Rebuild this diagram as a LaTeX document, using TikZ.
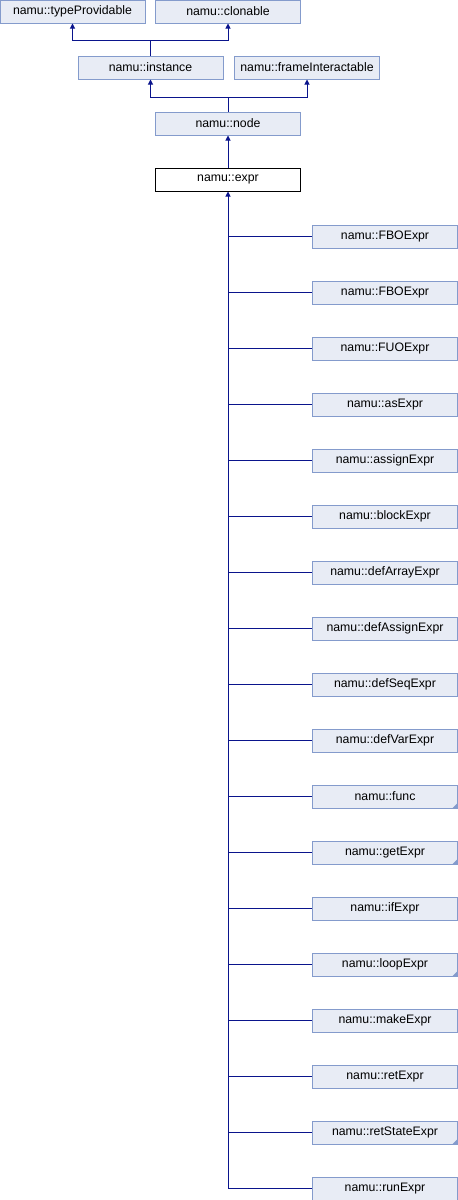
\documentclass[tikz,border=0pt]{standalone}
\usepackage{fontspec}
\setmainfont{Liberation Sans}
\usepackage{xcolor}
\usetikzlibrary{arrows.meta, positioning, calc}

\definecolor{boxfill}{RGB}{232,236,245}
\definecolor{boxline}{RGB}{132,155,204}
\definecolor{edgeblue}{RGB}{10,20,140}

\begin{document}
\begin{tikzpicture}[x=1pt, y=-1pt,
    cls/.style={draw=boxline, fill=boxfill, line width=1pt, rectangle, minimum width=145pt, minimum height=23pt, inner sep=0pt, font=\fontsize{12.3}{14}\selectfont},
    cur/.style={cls, draw=black, fill=white},
    link/.style={draw=edgeblue, line width=1pt},
    inh/.style={link, -{Triangle[length=5pt, width=5pt]}}]
    \useasboundingbox (0,0) rectangle (458,1200);

    % Base classes
    \node (typeProv) [cls] at (72.5,11.5) {namu::typeProvidable};
    \node (clonable) [cls] at (228,11.5) {namu::clonable};
    \node (instance) [cls] at (150.5,67.5) {namu::instance};
    \node (frameInt) [cls] at (307,67.5) {namu::frameInteractable};
    \node (node) [cls] at (228,123.5) {namu::node};
    \node (expr) [cur] at (228,179.5) {namu::expr};

    % Inheritance up the tree
    \coordinate (j1) at (150.5,40);
    \coordinate (j2) at (228,97);
    \draw[link] (instance.north) -- (j1);
    \draw[inh] (j1) -| (typeProv.south);
    \draw[inh] (j1) -| (clonable.south);
    \draw[link] (node.north) -- (j2);
    \draw[inh] (j2) -| (instance.south);
    \draw[inh] (j2) -| (frameInt.south);
    \draw[inh] (expr.north) -- (node.south);

    % Derived classes (1 = has more)
    \foreach \name/\more [count=\i] in {FBOExpr/0, FBOExpr/0, FUOExpr/0, asExpr/0, assignExpr/0,
        blockExpr/0, defArrayExpr/0, defAssignExpr/0, defSeqExpr/0, defVarExpr/0, func/1,
        getExpr/1, ifExpr/0, loopExpr/1, makeExpr/0, retExpr/0, retStateExpr/1, runExpr/0} {
      \node (c\i) [cls] at (385,{236.5+56*(\i-1)}) {namu::\name};
      \draw[link] (expr.south |- c\i.west) -- (c\i.west);
      \ifnum\more=1
        \fill[boxline] (c\i.south east) -- ++(-6,0) -- ++(6,-6) -- cycle;
      \fi
    }
    \draw[inh] (c18.west -| expr.south) -- (expr.south);
\end{tikzpicture}
\end{document}
